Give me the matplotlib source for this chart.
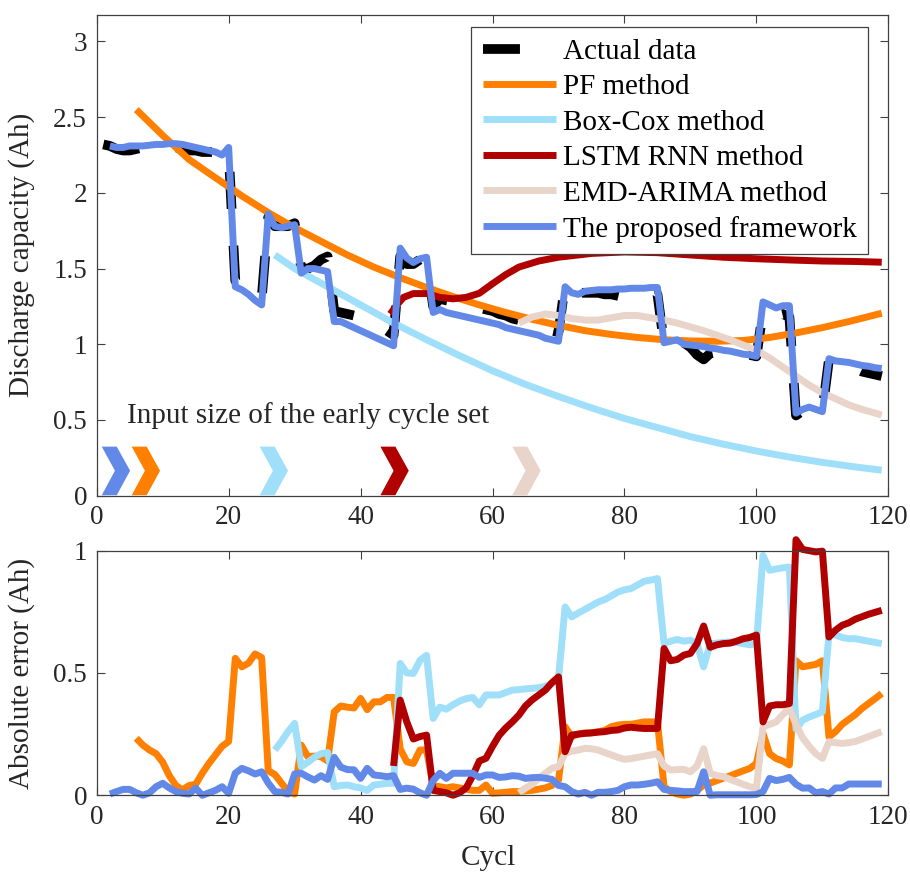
import matplotlib
matplotlib.use('Agg')
import matplotlib.pyplot as plt

plt.rcParams['font.family'] = ['Liberation Serif', 'DejaVu Serif']
plt.rcParams['lines.scale_dashes'] = False
plt.rcParams['lines.solid_joinstyle'] = 'round'
plt.rcParams['lines.solid_capstyle'] = 'butt'

# ---------------- data: top panel (discharge capacity, Ah) ----------------
actual_start = 1
actual = [2.32, 2.31, 2.29, 2.28, 2.28, 2.29, 2.30, 2.31, 2.31, 2.31,
          2.30, 2.30, 2.29, 2.28, 2.28, 2.27, 2.27, 2.27, 2.26, 2.27,
          1.42, 1.41, 1.38, 1.33, 1.30, 1.84, 1.78, 1.78, 1.78, 1.80,
          1.50, 1.50, 1.52, 1.56, 1.58, 1.22, 1.21, 1.20, 1.19, 1.17,
          1.15, 1.13, 1.11, 1.09, 1.06, 1.58, 1.53, 1.53, 1.56, 1.57,
          1.25, 1.30, 1.29, 1.28, 1.27, 1.26, 1.25, 1.24, 1.23, 1.22,
          1.20, 1.19, 1.17, 1.16, 1.15, 1.14, 1.12, 1.11, 1.09, 1.08,
          1.40, 1.36, 1.34, 1.34, 1.34, 1.34, 1.33, 1.33, 1.32, 1.31,
          1.31, 1.31, 1.31, 1.32, 1.33, 1.00, 1.02, 1.02, 1.01, 0.98,
          0.93, 0.90, 0.94, 0.95, 0.95, 0.95, 0.94, 0.93, 0.93, 0.92,
          1.22, 1.20, 1.19, 1.20, 1.18, 0.53, 0.56, 0.58, 0.57, 0.56,
          0.90, 0.89, 0.88, 0.87, 0.84, 0.82, 0.81, 0.80, 0.79]

proposed_start = 2
proposed = [2.31, 2.30, 2.30, 2.31, 2.31, 2.31, 2.315, 2.32, 2.32,
            2.325, 2.325, 2.32, 2.31, 2.30, 2.29, 2.28, 2.27, 2.25, 2.30,
            1.38, 1.36, 1.33, 1.29, 1.26, 1.86, 1.78, 1.77, 1.78, 1.79,
            1.47, 1.50, 1.50, 1.49, 1.48, 1.15, 1.15, 1.13, 1.11, 1.09,
            1.07, 1.05, 1.03, 1.01, 0.99, 1.635, 1.57, 1.54, 1.565, 1.575,
            1.21, 1.23, 1.21, 1.20, 1.19, 1.18, 1.17, 1.16, 1.15, 1.14,
            1.13, 1.11, 1.10, 1.09, 1.08, 1.07, 1.06, 1.04, 1.03, 1.02,
            1.38, 1.34, 1.33, 1.35, 1.355, 1.36, 1.36, 1.36, 1.365, 1.365,
            1.37, 1.37, 1.37, 1.375, 1.375, 1.01, 1.02, 1.03, 1.00, 0.995,
            0.99, 0.985, 0.975, 0.97, 0.96, 0.955, 0.945, 0.935, 0.93, 0.92,
            1.28, 1.26, 1.24, 1.255, 1.255, 0.545, 0.57, 0.585, 0.57, 0.555,
            0.905, 0.89, 0.885, 0.88, 0.87, 0.86, 0.855, 0.845, 0.84]

pf_cyc = [6, 10, 14, 18, 22, 26, 30, 34, 38, 42, 46, 50, 54, 58, 62, 66,
          70, 74, 78, 82, 86, 90, 94, 98, 102, 106, 110, 114, 119]
pf_cap = [2.55, 2.38, 2.22, 2.10, 1.98, 1.87, 1.77, 1.68, 1.59, 1.51, 1.44,
          1.375, 1.315, 1.26, 1.21, 1.165, 1.125, 1.09, 1.065, 1.045, 1.03,
          1.022, 1.02, 1.025, 1.045, 1.075, 1.11, 1.15, 1.205]

bc_cyc = [27, 30, 35, 40, 45, 50, 55, 60, 65, 70, 75, 80, 85, 90, 95, 100,
          105, 110, 115, 119]
bc_cap = [1.59, 1.50, 1.38, 1.26, 1.14, 1.03, 0.925, 0.825, 0.735, 0.655,
          0.58, 0.51, 0.45, 0.39, 0.34, 0.295, 0.255, 0.22, 0.19, 0.168]

lstm_cyc = [44.5, 45.5, 46.5, 48, 50, 52, 54, 56, 58, 60, 62, 64, 67, 70,
            75, 80, 85, 90, 95, 100, 105, 110, 115, 119]
lstm_cap = [1.20, 1.26, 1.31, 1.335, 1.335, 1.31, 1.30, 1.31, 1.337, 1.40,
            1.46, 1.51, 1.55, 1.575, 1.60, 1.61, 1.605, 1.59, 1.575, 1.565,
            1.557, 1.55, 1.547, 1.542]

emd_cyc = [64, 66, 68, 70, 72, 74, 76, 78, 80, 82, 84, 86, 88, 90, 92, 94,
           96, 98, 100, 102, 104, 106, 108, 110, 112, 114, 116, 119]
emd_cap = [1.14, 1.18, 1.20, 1.19, 1.17, 1.16, 1.16, 1.175, 1.19, 1.19,
           1.175, 1.16, 1.14, 1.115, 1.09, 1.06, 1.03, 0.995, 0.96, 0.91,
           0.85, 0.79, 0.73, 0.68, 0.64, 0.60, 0.57, 0.533]

# input size (start cycle) of the early cycle set for each method
chevron_start = [0.76, 5.3, 24.7, 43.0, 63.0]

# ---------------- data: bottom panel (absolute error, Ah) ----------------
err_prop_start = 2
err_prop = [0.005, 0.015, 0.024, 0.024, 0.01, 0.0, 0.01, 0.035, 0.049, 0.03,
            0.015, 0.008, 0.005, 0.029, 0.0, 0.01, 0.02, 0.035, 0.008, 0.09,
            0.11, 0.10, 0.087, 0.096, 0.05, 0.015, 0.012, 0.005, 0.087, 0.09,
            0.075, 0.062, 0.08, 0.065, 0.155, 0.115, 0.105, 0.104, 0.069, 0.11,
            0.083, 0.08, 0.076, 0.08, 0.024, 0.029, 0.025, 0.01, 0.0, 0.06,
            0.09, 0.069, 0.09, 0.09, 0.09, 0.09, 0.073, 0.083, 0.083, 0.073,
            0.075, 0.08, 0.078, 0.069, 0.072, 0.073, 0.07, 0.065, 0.04, 0.035,
            0.015, 0.005, 0.012, 0.0, 0.012, 0.012, 0.015, 0.02, 0.035, 0.042,
            0.042, 0.045, 0.049, 0.055, 0.024, 0.02, 0.018, 0.015, 0.015, 0.015,
            0.096, 0.0, 0.002, 0.002, 0.002, 0.002, 0.002, 0.002, 0.003, 0.015,
            0.069, 0.06, 0.065, 0.073, 0.045, 0.029, 0.03, 0.01, 0.015, 0.005,
            0.03, 0.03, 0.046, 0.046, 0.046, 0.046, 0.046, 0.046]

err_pf_start = 6
err_pf = [0.233, 0.205, 0.185, 0.17, 0.135, 0.08, 0.04, 0.022, 0.04, 0.045,
          0.09, 0.13, 0.165, 0.20, 0.22, 0.56, 0.525, 0.54, 0.578, 0.563,
          0.10, 0.085, 0.05, 0.015, 0.005, 0.205, 0.158, 0.16, 0.158, 0.14,
          0.341, 0.365, 0.36, 0.357, 0.396, 0.35, 0.382, 0.382, 0.40, 0.40,
          0.19, 0.137, 0.13, 0.185, 0.185, 0.04, 0.035, 0.03, 0.035, 0.03,
          0.025, 0.02, 0.02, 0.042, 0.008, 0.01, 0.012, 0.015, 0.015, 0.018,
          0.02, 0.025, 0.03, 0.04, 0.062, 0.28, 0.24, 0.25, 0.255, 0.255,
          0.26, 0.265, 0.28, 0.287, 0.29, 0.29, 0.295, 0.30, 0.30, 0.30,
          0.035, 0.015, 0.005, 0.0, 0.005, 0.02, 0.042, 0.05, 0.06, 0.07,
          0.079, 0.09, 0.10, 0.11, 0.13, 0.253, 0.17, 0.15, 0.14, 0.124,
          0.55, 0.525, 0.53, 0.535, 0.55, 0.239, 0.26, 0.29, 0.31, 0.33,
          0.355, 0.375, 0.395, 0.416]

err_bc_start = 27
err_bc = [0.185, 0.22, 0.26, 0.294, 0.117, 0.135, 0.155, 0.17, 0.175, 0.035,
          0.04, 0.042, 0.035, 0.03, 0.02, 0.042, 0.045, 0.049, 0.049, 0.539,
          0.50, 0.498, 0.552, 0.572, 0.314, 0.36, 0.352, 0.37, 0.385, 0.395,
          0.40, 0.37, 0.41, 0.41, 0.41, 0.42, 0.43, 0.432, 0.435, 0.437,
          0.44, 0.445, 0.457, 0.478, 0.77, 0.729, 0.745, 0.76, 0.775, 0.79,
          0.80, 0.815, 0.831, 0.84, 0.845, 0.86, 0.875, 0.88, 0.886, 0.62,
          0.63, 0.637, 0.63, 0.634, 0.62, 0.525, 0.62, 0.622, 0.625, 0.627,
          0.625, 0.62, 0.615, 0.62, 0.98, 0.92, 0.925, 0.93, 0.933, 0.27,
          0.307, 0.32, 0.33, 0.341, 0.66, 0.655, 0.645, 0.64, 0.64, 0.635,
          0.63, 0.625, 0.62]

err_lstm_start = 45
err_lstm = [0.12, 0.389, 0.30, 0.23, 0.24, 0.246, 0.02, 0.015, 0.01, 0.0,
            0.01, 0.03, 0.08, 0.14, 0.151, 0.20, 0.245, 0.275, 0.30, 0.328,
            0.365, 0.39, 0.41, 0.43, 0.46, 0.484, 0.178, 0.246, 0.25, 0.253,
            0.255, 0.258, 0.26, 0.265, 0.267, 0.275, 0.278, 0.275, 0.273, 0.273,
            0.273, 0.60, 0.55, 0.555, 0.573, 0.58, 0.62, 0.692, 0.605, 0.615,
            0.62, 0.622, 0.63, 0.64, 0.645, 0.655, 0.30, 0.365, 0.37, 0.37,
            0.375, 1.045, 1.005, 1.0, 0.995, 0.998, 0.647, 0.675, 0.695, 0.705,
            0.72, 0.73, 0.74, 0.748, 0.756]

err_emd_start = 64
err_emd = [0.01, 0.029, 0.045, 0.069, 0.09, 0.11, 0.117, 0.171, 0.18, 0.185,
           0.192, 0.19, 0.185, 0.175, 0.165, 0.155, 0.147, 0.15, 0.155, 0.16,
           0.165, 0.17, 0.12, 0.103, 0.105, 0.106, 0.096, 0.12, 0.19, 0.09,
           0.08, 0.076, 0.065, 0.055, 0.045, 0.035, 0.029, 0.28, 0.29, 0.30,
           0.33, 0.355, 0.29, 0.235, 0.20, 0.17, 0.151, 0.219, 0.215, 0.212,
           0.215, 0.22, 0.23, 0.24, 0.25, 0.26]

labels = ['Actual data', 'PF method', 'Box-Cox method', 'LSTM RNN method',
          'EMD-ARIMA method', 'The proposed framework']
x_ticks = [0, 20, 40, 60, 80, 100, 120]
y1_ticks = [0, 0.5, 1, 1.5, 2, 2.5, 3]
y1_ticklabels = ['0', '0.5', '1', '1.5', '2', '2.5', '3']
y2_ticks = [0, 0.5, 1]
y2_ticklabels = ['0', '0.5', '1']

# ---------------- style ----------------
C_ORANGE = '#FF8000'
C_LBLUE = '#A0DFFA'
C_RED = '#B00000'
C_BEIGE = '#E8D4C9'
C_BLUE = '#6288E8'
C_AX = '#404040'
C_TXT = '#262626'
LW = 5.0


def cyc(start, vals):
    return list(range(start, start + len(vals)))


fig = plt.figure(figsize=(9.1, 8.77), dpi=100)
ax1 = fig.add_axes([0.1063, 0.4348, 0.8699, 0.5481])
ax2 = fig.add_axes([0.1063, 0.0932, 0.8699, 0.2789])

# top panel
ax1.plot(cyc(actual_start, actual), actual, color='black', lw=7,
         ls=(0, (26.6, 26.6)), label=labels[0], zorder=2)
ax1.plot(pf_cyc, pf_cap, color=C_ORANGE, lw=LW, label=labels[1], zorder=3)
ax1.plot(bc_cyc, bc_cap, color=C_LBLUE, lw=LW, label=labels[2], zorder=3)
ax1.plot(lstm_cyc, lstm_cap, color=C_RED, lw=LW, label=labels[3], zorder=3)
ax1.plot(emd_cyc, emd_cap, color=C_BEIGE, lw=LW, label=labels[4], zorder=3)
ax1.plot(cyc(proposed_start, proposed), proposed, color=C_BLUE, lw=LW,
         label=labels[5], zorder=5)

# chevrons marking input size
chev_colors = [C_BLUE, C_ORANGE, C_LBLUE, C_RED, C_BEIGE]
for s, col in zip(chevron_start, chev_colors):
    xs = [s, s + 2.27, s + 4.3, s + 2.27, s, s + 2.0]
    ys = [0.324, 0.324, 0.165, 0.003, 0.003, 0.165]
    ax1.fill(xs, ys, color=col, lw=0, zorder=4)

ax1.text(4.6, 0.48, 'Input size of the early cycle set', fontsize=21,
         color=C_TXT, ha='left', va='baseline')

ax1.set_xlim(0, 120)
ax1.set_ylim(0, 3.175)
ax1.set_xticks(x_ticks)
ax1.set_yticks(y1_ticks)
ax1.set_yticklabels(y1_ticklabels)

leg = ax1.legend(loc='upper right', bbox_to_anchor=(0.9747, 0.9757),
                 borderaxespad=0, fontsize=21, handlelength=2.5,
                 handletextpad=0.25, labelspacing=0.31, borderpad=0.4,
                 fancybox=False, edgecolor=C_AX, framealpha=1)
leg.get_frame().set_linewidth(0.9)
for t in leg.get_texts():
    t.set_color('black')

# bottom panel
ax2.plot(cyc(err_pf_start, err_pf), err_pf, color=C_ORANGE, lw=LW, zorder=3, clip_on=False)
ax2.plot(cyc(err_bc_start, err_bc), err_bc, color=C_LBLUE, lw=LW, zorder=3, clip_on=False)
ax2.plot(cyc(err_emd_start, err_emd), err_emd, color=C_BEIGE, lw=LW, zorder=3, clip_on=False)
ax2.plot(cyc(err_lstm_start, err_lstm), err_lstm, color=C_RED, lw=LW, zorder=4, clip_on=False)
ax2.plot(cyc(err_prop_start, err_prop), err_prop, color=C_BLUE, lw=LW, zorder=5, clip_on=False)

ax2.set_xlim(0, 120)
ax2.set_ylim(0, 1)
ax2.set_xticks(x_ticks)
ax2.set_yticks(y2_ticks)
ax2.set_yticklabels(y2_ticklabels)

for ax in (ax1, ax2):
    ax.tick_params(direction='in', length=5.7, width=0.8, top=True,
                   right=True, labelsize=19.5, labelcolor=C_TXT,
                   color=C_AX, pad=7)
    for sp in ax.spines.values():
        sp.set_color(C_AX)
        sp.set_linewidth(0.9)
        sp.set_zorder(6)

fig.text(22 / 910, 1 - 255 / 877, 'Discharge capacity (Ah)', rotation=90,
         fontsize=21, color=C_TXT, ha='center', va='center')
fig.text(22 / 910, 1 - 673 / 877, 'Absolute error (Ah)', rotation=90,
         fontsize=21, color=C_TXT, ha='center', va='center')
fig.text(488 / 910, 1 - 858 / 877, 'Cycl', fontsize=21, color=C_TXT,
         ha='center', va='center')

fig.savefig('out.png', dpi=100)
